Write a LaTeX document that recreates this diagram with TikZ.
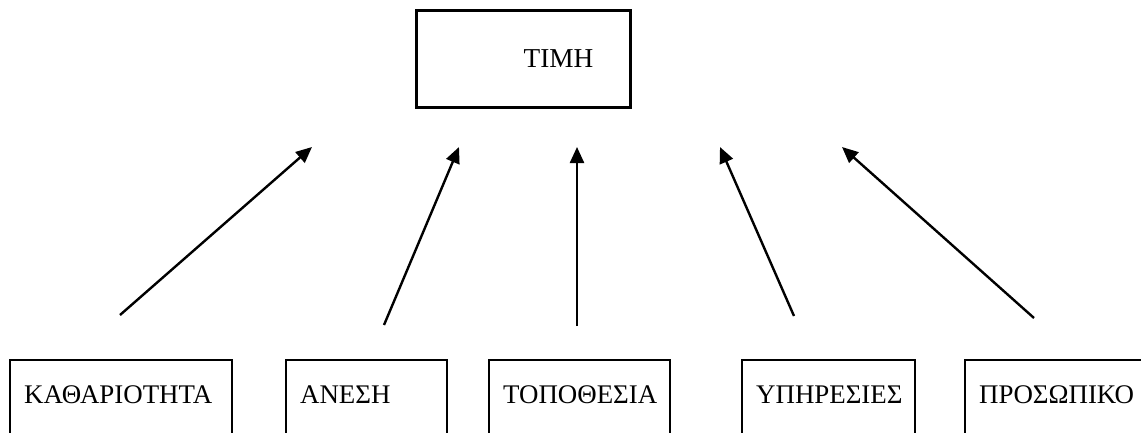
\documentclass[tikz,border=0pt]{standalone}
\usepackage{fontspec}
\setmainfont{Liberation Serif}
\usetikzlibrary{arrows.meta}
\begin{document}
\begin{tikzpicture}[
  x=1pt, y=-1pt,
  factor/.style={draw, line width=2.3pt, anchor=north west, minimum height=90pt,
    inner xsep=14pt, align=left, text height=18pt, text depth=22pt,
    font=\fontsize{26.9}{31}\selectfont},
  link/.style={line width=2.4pt, -{Triangle[length=16pt,width=14pt]}}
]
\useasboundingbox (0,0) rectangle (1141,432);

\node [draw, line width=2.8pt, anchor=north west, minimum height=97pt,
  text width=140pt, inner xsep=37pt, align=right,
  font=\fontsize{27.3}{31}\selectfont] (timh) at (415,9) {ΤΙΜΗ};

\node [factor, text width=194pt] (kath) at (9,359) {ΚΑΘΑΡΙΟΤΗΤΑ};
\node [factor, text width=133pt] (anesi) at (285,359) {ΑΝΕΣΗ};
\node [factor, text width=153pt] (topo) at (488,359) {ΤΟΠΟΘΕΣΙΑ};
\node [factor, text width=145pt] (ypir) at (741,359) {ΥΠΗΡΕΣΙΕΣ};
\node [factor, text width=162pt] (pros) at (964,359) {ΠΡΟΣΩΠΙΚΟ};

\coordinate (s1) at (120,315);  \coordinate (t1) at (312,147);
\coordinate (s2) at (384,325);  \coordinate (t2) at (459,147);
\coordinate (s3) at (577,326);  \coordinate (t3) at (577,147);
\coordinate (s4) at (794,316);  \coordinate (t4) at (720,147);
\coordinate (s5) at (1034,318); \coordinate (t5) at (842,147);

\draw [link] (s1) -- (t1);
\draw [link] (s2) -- (t2);
\draw [link] (s3) -- (t3);
\draw [link] (s4) -- (t4);
\draw [link] (s5) -- (t5);
\end{tikzpicture}
\end{document}
